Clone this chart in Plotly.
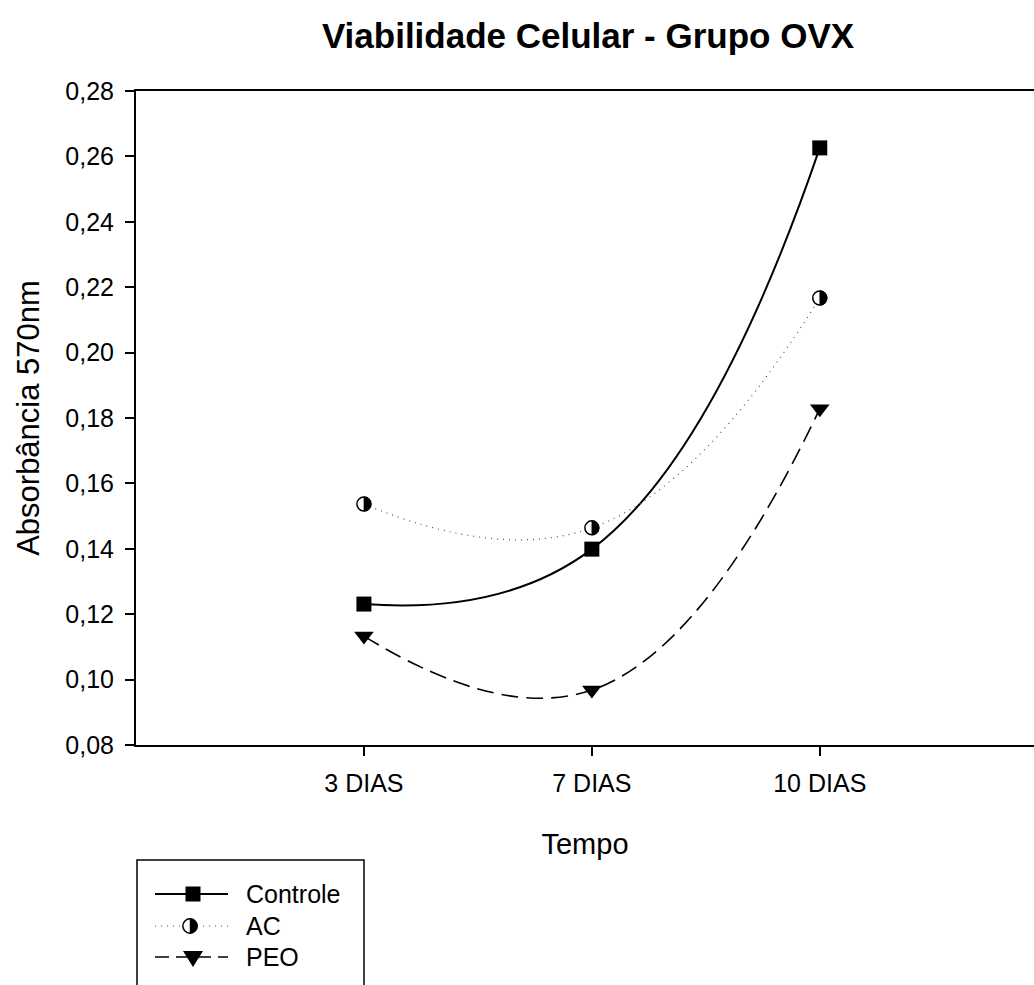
import plotly.graph_objects as go

# Absorbance readings (570 nm) per time point
dias = ["3 DIAS", "7 DIAS", "10 DIAS"]
controle = [0.1231, 0.1399, 0.2626]
ac = [0.1537, 0.1464, 0.2167]
peo = [0.1133, 0.0968, 0.1828]
y_ticks = [0.08, 0.10, 0.12, 0.14, 0.16, 0.18, 0.20, 0.22, 0.24, 0.26, 0.28]

xpos = list(range(len(dias)))

W, H = 1034, 985
ML, MR, MT, MB = 136, 0, 91, 240
PW, PH = W - ML - MR, H - MT - MB
FONT = "Liberation Sans, Arial, sans-serif"


def px(x):
    return (x - ML) / PW


def py(y):
    return (H - MB - y) / PH


def right_half(r):
    k = 0.5523 * r
    return (f"M0,{-r} C{k:.2f},{-r} {r},{-k:.2f} {r},0 "
            f"C{r},{k:.2f} {k:.2f},{r} 0,{r} Z")


fig = go.Figure()

fig.add_trace(go.Scatter(
    x=xpos, y=controle, name="Controle", mode="lines+markers",
    line=dict(color="black", width=2, shape="spline", smoothing=1.3),
    marker=dict(symbol="square", size=15, color="black"),
))
fig.add_trace(go.Scatter(
    x=xpos, y=ac, name="AC", mode="lines+markers",
    line=dict(color="#555555", width=1.2, dash="1px,5px", shape="spline", smoothing=1.3),
    marker=dict(symbol="circle", size=14, color="white",
                line=dict(color="black", width=1.5)),
))
fig.add_trace(go.Scatter(
    x=xpos, y=peo, name="PEO", mode="lines+markers",
    line=dict(color="black", width=1.6, dash="17px,8px", shape="spline", smoothing=1.3),
    marker=dict(symbol="triangle-down", size=17, color="black"),
))

shapes = []
# Right-hand black half of each AC marker
for xv, yv in zip(xpos, ac):
    shapes.append(dict(
        type="path", xref="x", yref="y", xsizemode="pixel", ysizemode="pixel",
        xanchor=xv, yanchor=yv, path=right_half(7.2),
        fillcolor="black", line=dict(color="black", width=0.5), layer="above",
    ))

# Legend box
shapes.append(dict(type="rect", xref="paper", yref="paper",
                   x0=px(137), x1=px(364), y0=py(1010), y1=py(860),
                   line=dict(color="black", width=1.5), fillcolor="rgba(0,0,0,0)"))

rows = [894, 926, 957]
samples = [
    dict(color="black", width=2, dash="solid"),
    dict(color="#555555", width=1.2, dash="1px,5px"),
    dict(color="black", width=1.6, dash="14px,7px"),
]
for ry, ln in zip(rows, samples):
    shapes.append(dict(type="line", xref="paper", yref="paper",
                       x0=px(155), x1=px(228), y0=py(ry), y1=py(ry), line=ln))

# Legend symbols
shapes.append(dict(type="rect", xref="paper", yref="paper", xsizemode="pixel",
                   ysizemode="pixel", xanchor=px(193), yanchor=py(rows[0]),
                   x0=-7.5, x1=7.5, y0=-7.5, y1=7.5, fillcolor="black",
                   line=dict(color="black", width=0)))
shapes.append(dict(type="circle", xref="paper", yref="paper", xsizemode="pixel",
                   ysizemode="pixel", xanchor=px(190), yanchor=py(rows[1]),
                   x0=-7.2, x1=7.2, y0=-7.2, y1=7.2, fillcolor="white",
                   line=dict(color="black", width=1.5)))
shapes.append(dict(type="path", xref="paper", yref="paper", xsizemode="pixel",
                   ysizemode="pixel", xanchor=px(190), yanchor=py(rows[1]),
                   path=right_half(7.2), fillcolor="black",
                   line=dict(color="black", width=0.5)))
shapes.append(dict(type="path", xref="paper", yref="paper", xsizemode="pixel",
                   ysizemode="pixel", xanchor=px(193), yanchor=py(rows[2]),
                   path="M-10,6 L10,6 L0,-10 Z", fillcolor="black",
                   line=dict(color="black", width=0)))

names = ["Controle", "AC", "PEO"]
annotations = [
    dict(text=n, xref="paper", yref="paper", x=px(244), y=py(ry),
         xanchor="left", yanchor="middle", showarrow=False,
         font=dict(family=FONT, size=25, color="black"))
    for n, ry in zip(names, rows)
]

fig.update_layout(
    width=W, height=H,
    margin=dict(l=ML, r=MR, t=MT, b=MB, pad=0),
    paper_bgcolor="white", plot_bgcolor="white",
    separators=",.",
    showlegend=False,
    font=dict(family=FONT, color="black"),
    title=dict(text="<b>Viabilidade Celular - Grupo OVX</b>",
               xref="paper", x=px(588), xanchor="center",
               yref="container", y=1 - 36 / H, yanchor="middle",
               font=dict(family=FONT, size=35, color="black")),
    xaxis=dict(
        range=[-1, 2.94], tickmode="array", tickvals=xpos, ticktext=dias,
        showline=True, linecolor="black", linewidth=2, mirror=True,
        ticks="outside", ticklen=9, tickwidth=1.5, tickcolor="black",
        ticklabelstandoff=6,
        showgrid=False, zeroline=False,
        tickfont=dict(family=FONT, size=25),
        title=dict(text="Tempo", font=dict(family=FONT, size=29), standoff=38),
    ),
    yaxis=dict(
        range=[0.08, 0.28], tickmode="array", tickvals=y_ticks, tickformat=".2f",
        showline=True, linecolor="black", linewidth=2, mirror=False,
        ticks="outside", ticklen=9, tickwidth=1.5, tickcolor="black",
        ticklabelstandoff=6,
        showgrid=False, zeroline=False,
        tickfont=dict(family=FONT, size=25),
        title=dict(text="Absorbância 570nm", font=dict(family=FONT, size=31), standoff=16),
    ),
    shapes=shapes,
    annotations=annotations,
)

fig.write_html("out.html")
